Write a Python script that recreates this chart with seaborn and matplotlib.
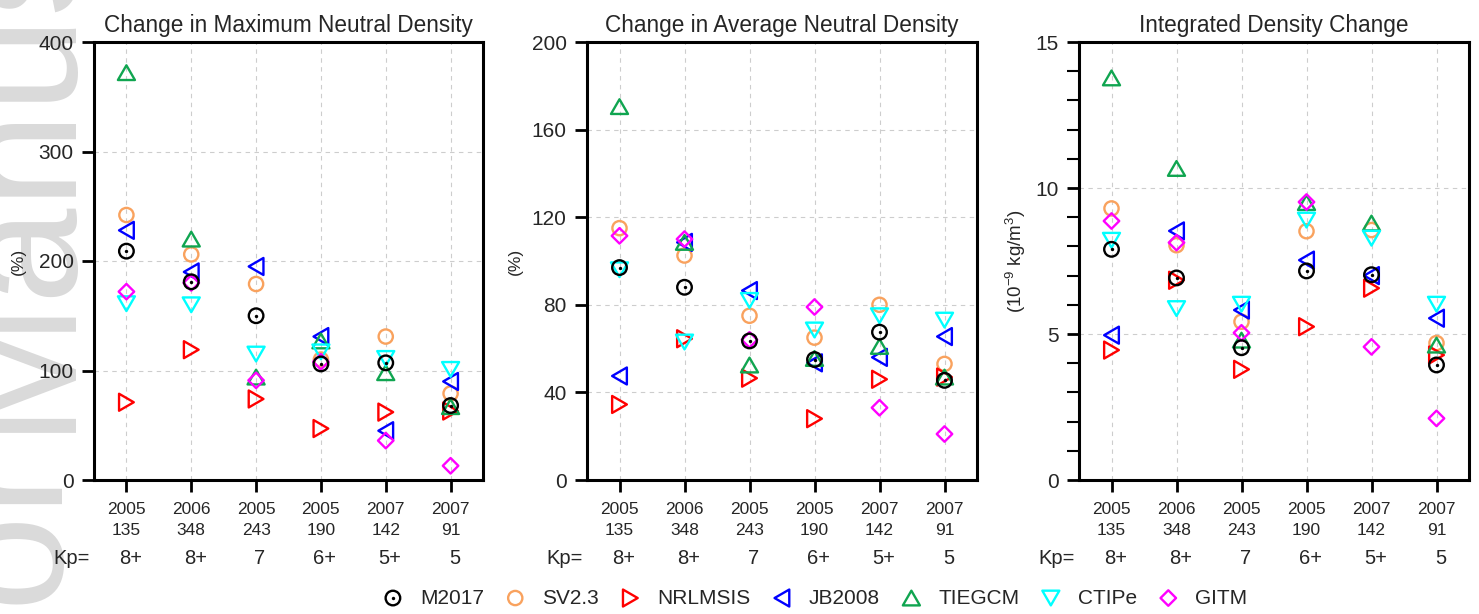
import numpy as np
import pandas as pd
import matplotlib
matplotlib.use("Agg")
import matplotlib.pyplot as plt
import seaborn as sns
from matplotlib.path import Path
from matplotlib.transforms import blended_transform_factory, ScaledTranslation
from matplotlib.legend_handler import HandlerTuple
from matplotlib.ticker import MultipleLocator

# ---------------- data ----------------
years = ["2005", "2006", "2005", "2005", "2007", "2007"]
doys = ["135", "348", "243", "190", "142", "91"]
kp_values = ["8+", "8+", "7", "6+", "5+", "5"]
models = ["M2017", "SV2.3", "NRLMSIS", "JB2008", "TIEGCM", "CTIPe", "GITM"]

# Change in maximum neutral density (%)
max_M2017 = [209, 181, 150, 106, 107, 68]
max_SV23 = [242, 206, 179, 110, 131, 79]
max_NRLMSIS = [71, 119, 74, 47, 62, 63]
max_JB2008 = [228, 190, 195, 131, 45, 90]
max_TIEGCM = [372, 220, 94, 127, 98, 67]
max_CTIPe = [161, 160, 115, 117, 111, 101]
max_GITM = [172, 180, 91, 108, 36, 13]

# Change in average neutral density (%)
avg_M2017 = [97, 88, 63.5, 55, 67.5, 45.5]
avg_SV23 = [115, 102.5, 75, 65, 80, 53]
avg_NRLMSIS = [34.5, 64.5, 46.5, 28, 46, 47]
avg_JB2008 = [47.5, 108.5, 86.5, 53.5, 56, 65.5]
avg_TIEGCM = [170.5, 108.5, 52.5, 55.5, 61, 47]
avg_CTIPe = [96, 63, 82, 68.5, 75, 73]
avg_GITM = [111.5, 110, 64, 79, 33, 21]

# Integrated density change (1e-9 kg/m^3)
int_M2017 = [7.9, 6.92, 4.53, 7.16, 7.03, 3.94]
int_SV23 = [9.3, 8.04, 5.42, 8.52, 8.56, 4.69]
int_NRLMSIS = [4.45, 6.84, 3.79, 5.25, 6.57, 4.28]
int_JB2008 = [4.96, 8.53, 5.82, 7.53, 7.0, 5.54]
int_TIEGCM = [13.77, 10.67, 4.79, 9.5, 8.8, 4.62]
int_CTIPe = [8.21, 5.87, 6.02, 8.9, 8.28, 6.02]
int_GITM = [8.87, 8.13, 5.04, 9.52, 4.56, 2.11]

titles = ["Change in Maximum Neutral Density",
          "Change in Average Neutral Density",
          "Integrated Density Change"]
ylabels = ["(%)", "(%)", "(10$^{-9}$ kg/m$^3$)"]

panel_data = [
    dict(zip(models, [max_M2017, max_SV23, max_NRLMSIS, max_JB2008, max_TIEGCM, max_CTIPe, max_GITM])),
    dict(zip(models, [avg_M2017, avg_SV23, avg_NRLMSIS, avg_JB2008, avg_TIEGCM, avg_CTIPe, avg_GITM])),
    dict(zip(models, [int_M2017, int_SV23, int_NRLMSIS, int_JB2008, int_TIEGCM, int_CTIPe, int_GITM])),
]

# ---------------- style ----------------
sns.set_theme(style="ticks")
plt.rcParams["font.family"] = ["Liberation Sans", "DejaVu Sans"]
plt.rcParams["mathtext.default"] = "regular"


def closed_marker(verts):
    verts = list(verts) + [verts[0]]
    return Path(verts, closed=True)


h = 0.866
tri_up = closed_marker([(-1, -h), (1, -h), (0, h)])
tri_down = closed_marker([(-1, h), (1, h), (0, -h)])
tri_right = closed_marker([(-h, 1), (-h, -1), (h, 0)])
tri_left = closed_marker([(h, 1), (h, -1), (-h, 0)])
diamond = closed_marker([(0, 1), (1, 0), (0, -1), (-1, 0)])

colors = {"M2017": "#000000", "SV2.3": "#F9A25E", "NRLMSIS": "#FF0000",
          "JB2008": "#0000FF", "TIEGCM": "#10A550", "CTIPe": "#00FFFF",
          "GITM": "#FF00FF"}
markers = {"M2017": "o", "SV2.3": "o", "NRLMSIS": tri_right, "JB2008": tri_left,
           "TIEGCM": tri_up, "CTIPe": tri_down, "GITM": diamond}
sizes = {"M2017": 110, "SV2.3": 105, "NRLMSIS": 150, "JB2008": 150,
         "TIEGCM": 150, "CTIPe": 150, "GITM": 125}
draw_order = ["SV2.3", "NRLMSIS", "JB2008", "TIEGCM", "CTIPe", "GITM", "M2017"]

W, H = 1479, 614
fig = plt.figure(figsize=(W / 100, H / 100), dpi=100)

# faint watermark of the source page (behind everything)
wm_kw = dict(rotation=90, rotation_mode="anchor", va="baseline",
             fontsize=124, color="#dadada", zorder=-5)
fig.text(63 / W, 182 / H, "Manuscript", ha="left", **wm_kw)
fig.text(63 / W, 158 / H, "Author", ha="right", **wm_kw)

panel_px = [(94, 483), (587, 977), (1079, 1469)]
top_px, bot_px = 42, 480
ylims = [(0, 400), (0, 200), (0, 15)]
yticks = [np.arange(0, 401, 100), np.arange(0, 201, 40), np.arange(0, 16, 5)]
ylabel_x = [-0.175, -0.164, -0.131]

xpos = np.arange(len(years))
handles = {}

for p, (l, r) in enumerate(panel_px):
    ax = fig.add_axes([l / W, 1 - bot_px / H, (r - l) / W, (bot_px - top_px) / H])
    ax.set_axisbelow(True)
    for m in draw_order:
        df = pd.DataFrame({"x": xpos, "y": panel_data[p][m]})
        sns.scatterplot(data=df, x="x", y="y", ax=ax, marker=markers[m],
                        s=sizes[m], color=colors[m], facecolor="none",
                        edgecolor=colors[m], linewidth=1.7, legend=False,
                        zorder=3)
        coll = ax.collections[-1]
        if m == "M2017":
            sns.scatterplot(data=df, x="x", y="y", ax=ax, marker="o", s=6,
                            color="black", edgecolor="black", linewidth=0,
                            legend=False, zorder=4)
            handles[m] = (coll, ax.collections[-1])
        else:
            handles[m] = coll

    ax.set_xlim(-0.5, 5.5)
    ax.set_ylim(*ylims[p])
    ax.set_yticks(yticks[p])
    ax.set_xticks(xpos)
    ax.set_xticklabels([f"{y}\n{d}" for y, d in zip(years, doys)],
                       fontsize=12.5, linespacing=1.5)
    ax.tick_params(axis="x", length=8.6, width=2, pad=7, color="black")
    ax.tick_params(axis="y", length=8.6, width=2, pad=6, labelsize=15,
                   color="black")
    if p == 2:
        ax.yaxis.set_minor_locator(MultipleLocator(1))
        ax.tick_params(axis="y", which="minor", length=8.6, width=1.5,
                       color="black")
    ax.grid(True, which="major", color="#cdcdcd", linestyle=(0, (4, 4)),
            linewidth=0.8)
    for s in ax.spines.values():
        s.set_linewidth(2.2)
        s.set_color("black")
    ax.set_xlabel("")
    ax.set_ylabel(ylabels[p], fontsize=12.5 if p < 2 else 13.5)
    ax.yaxis.set_label_coords(ylabel_x[p], 0.5)
    ax.set_title(titles[p], fontsize=16.3, pad=7)

    trans = blended_transform_factory(ax.transData, ax.transAxes)
    for i, k in enumerate(kp_values):
        ax.text(i + 0.06, -0.18, k, transform=trans, ha="center",
                va="center", fontsize=14.5)
    ax.text(0, -0.18, "Kp=", ha="right", va="center", fontsize=14.5,
            transform=ax.transAxes + ScaledTranslation(-4 / 100, 0, fig.dpi_scale_trans))

fig.legend([handles[m] for m in models], models, loc="center",
           bbox_to_anchor=(815 / W, 1 - 598 / H), ncol=7, frameon=False,
           fontsize=15, handletextpad=0.8, columnspacing=1.0,
           handlelength=1.0, scatterpoints=1,
           handler_map={tuple: HandlerTuple(ndivide=1, pad=0)})

fig.savefig("out.png", dpi=100)
